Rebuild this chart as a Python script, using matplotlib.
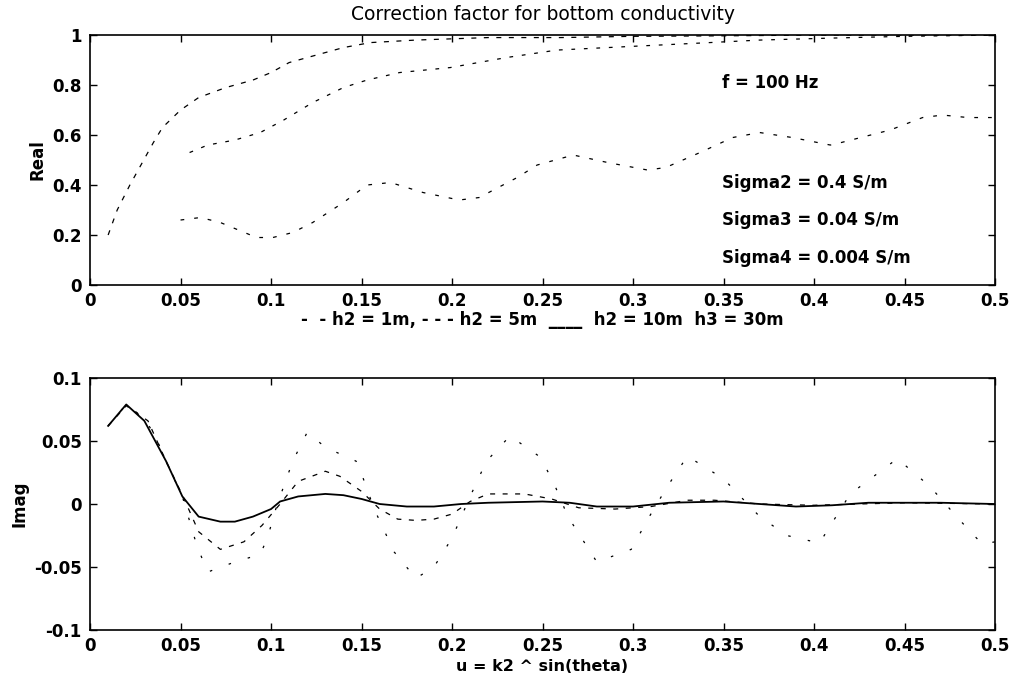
import matplotlib.pyplot as plt
import numpy as np

plt.rcParams['font.family'] = ['DejaVu Sans']

# Real part
u_real_a = [0.01, 0.015, 0.022, 0.035, 0.04, 0.05, 0.06, 0.075, 0.09, 0.1, 0.11,
            0.125, 0.14, 0.155, 0.18, 0.22, 0.26, 0.3, 0.35, 0.4, 0.45, 0.5]
real_a = [0.2, 0.3, 0.4, 0.57, 0.63, 0.70, 0.75, 0.79, 0.82, 0.85, 0.89,
          0.92, 0.95, 0.97, 0.98, 0.99, 0.99, 0.995, 0.997, 1.0, 1.0, 1.0]

u_real_b = [0.055, 0.065, 0.08, 0.094, 0.107, 0.123, 0.14, 0.153, 0.171, 0.199,
            0.23, 0.258, 0.3, 0.337, 0.37, 0.41, 0.45, 0.5]
real_b = [0.53, 0.56, 0.58, 0.61, 0.66, 0.73, 0.79, 0.82, 0.85, 0.87,
          0.91, 0.94, 0.955, 0.968, 0.98, 0.988, 0.995, 1.0]

u_real_c = [0.05, 0.061, 0.072, 0.092, 0.101, 0.112, 0.123, 0.14, 0.153, 0.166,
            0.184, 0.204, 0.215, 0.236, 0.247, 0.267, 0.286, 0.308, 0.318,
            0.337, 0.355, 0.37, 0.388, 0.409, 0.415, 0.442, 0.46, 0.471, 0.485, 0.5]
real_c = [0.26, 0.27, 0.25, 0.19, 0.19, 0.21, 0.25, 0.33, 0.40, 0.41,
          0.37, 0.34, 0.35, 0.43, 0.48, 0.52, 0.49, 0.46, 0.47,
          0.53, 0.59, 0.61, 0.59, 0.56, 0.57, 0.62, 0.67, 0.68, 0.67, 0.67]

# Imaginary part
u_imag_a = [0.01, 0.02, 0.03, 0.036, 0.042, 0.051, 0.059, 0.065, 0.08, 0.094,
            0.098, 0.103, 0.112, 0.12, 0.13, 0.147, 0.151, 0.157, 0.168, 0.18,
            0.19, 0.2, 0.21, 0.219, 0.232, 0.249, 0.257, 0.264, 0.28, 0.299,
            0.309, 0.319, 0.33, 0.35, 0.37, 0.385, 0.403, 0.42, 0.446, 0.464,
            0.48, 0.493, 0.5]
imag_a = [0.062, 0.079, 0.068, 0.054, 0.034, 0.006, -0.033, -0.054, -0.046, -0.04,
          -0.027, -0.002, 0.034, 0.057, 0.045, 0.034, 0.02, -0.004, -0.038, -0.059,
          -0.05, -0.027, 0.006, 0.034, 0.054, 0.037, 0.014, -0.01, -0.046, -0.036,
          -0.01, 0.014, 0.038, 0.02, -0.01, -0.025, -0.031, 0.008, 0.036, 0.014,
          -0.012, -0.032, -0.03]

u_imag_b = [0.01, 0.02, 0.032, 0.042, 0.052, 0.06, 0.072, 0.085, 0.095, 0.105,
            0.115, 0.13, 0.138, 0.15, 0.16, 0.17, 0.18, 0.19, 0.2, 0.21,
            0.22, 0.24, 0.255, 0.27, 0.29, 0.31, 0.33, 0.345, 0.37, 0.4, 0.45, 0.5]
imag_b = [0.062, 0.078, 0.066, 0.034, 0.004, -0.022, -0.036, -0.03, -0.017, 0.0,
          0.018, 0.026, 0.022, 0.01, -0.004, -0.012, -0.013, -0.012, -0.008, 0.002,
          0.008, 0.008, 0.004, -0.003, -0.004, -0.002, 0.003, 0.003, 0.0, -0.001, 0.001, 0.0]

u_imag_c = [0.01, 0.02, 0.03, 0.042, 0.051, 0.06, 0.072, 0.08, 0.09, 0.1,
            0.105, 0.115, 0.13, 0.14, 0.15, 0.16, 0.175, 0.19, 0.205, 0.22,
            0.25, 0.265, 0.28, 0.3, 0.32, 0.35, 0.37, 0.39, 0.41, 0.43, 0.47, 0.5]
imag_c = [0.062, 0.079, 0.066, 0.034, 0.006, -0.010, -0.014, -0.014, -0.010, -0.004,
          0.002, 0.006, 0.008, 0.007, 0.004, 0.0, -0.002, -0.002, 0.0, 0.001,
          0.002, 0.001, -0.002, -0.002, 0.001, 0.002, 0.0, -0.002, -0.001, 0.001, 0.001, 0.0]

xticks = [0, 0.05, 0.1, 0.15, 0.2, 0.25, 0.3, 0.35, 0.4, 0.45, 0.5]
xticklabels = ['0', '0.05', '0.1', '0.15', '0.2', '0.25', '0.3', '0.35', '0.4', '0.45', '0.5']
real_ticks = [0, 0.2, 0.4, 0.6, 0.8, 1]
real_ticklabels = ['0', '0.2', '0.4', '0.6', '0.8', '1']
imag_ticks = [-0.1, -0.05, 0, 0.05, 0.1]
imag_ticklabels = ['-0.1', '-0.05', '0', '0.05', '0.1']

fig = plt.figure(figsize=(10.14, 6.81), dpi=100)
ax1 = fig.add_axes([0.0888, 0.5815, 0.8925, 0.367])
ax2 = fig.add_axes([0.0888, 0.0749, 0.8925, 0.370])

ax1.plot(u_real_a, real_a, color='k', lw=0.9, linestyle=(0, (4, 6)))
ax1.plot(u_real_b, real_b, color='k', lw=0.9, linestyle=(0, (3, 7)))
ax1.plot(u_real_c, real_c, color='k', lw=0.9, linestyle=(0, (3, 8)))

ax2.plot(u_imag_a, imag_a, color='k', lw=0.9, linestyle=(0, (2, 14)))
ax2.plot(u_imag_b, imag_b, color='k', lw=0.9, linestyle=(0, (4, 6)))
ax2.plot(u_imag_c, imag_c, color='k', lw=1.3)

for ax, yt, ytl, ylim in [(ax1, real_ticks, real_ticklabels, (0, 1)),
                          (ax2, imag_ticks, imag_ticklabels, (-0.1, 0.1))]:
    ax.set_xlim(0, 0.5)
    ax.set_ylim(*ylim)
    ax.set_xticks(xticks)
    ax.set_xticklabels(xticklabels, fontsize=12, fontweight='bold')
    ax.set_yticks(yt)
    ax.set_yticklabels(ytl, fontsize=12, fontweight='bold')
    ax.tick_params(direction='in', length=5, width=1, top=True, right=True)
    ax.tick_params(axis='x', pad=5)
    ax.tick_params(axis='y', pad=6)
    for s in ax.spines.values():
        s.set_linewidth(1.2)

ax1.set_title('Correction factor for bottom conductivity', fontsize=13.5, pad=11)
ax1.set_ylabel('Real', fontsize=12, fontweight='bold', labelpad=4)
ax1.set_xlabel('-  - h2 = 1m, - - - h2 = 5m  ____  h2 = 10m  h3 = 30m',
               fontsize=12, fontweight='bold', labelpad=1)
ax1.text(0.349, 0.81, 'f = 100 Hz', fontsize=12, fontweight='bold', va='center')
ax1.text(0.349, 0.41, 'Sigma2 = 0.4 S/m', fontsize=12, fontweight='bold', va='center')
ax1.text(0.349, 0.26, 'Sigma3 = 0.04 S/m', fontsize=12, fontweight='bold', va='center')
ax1.text(0.349, 0.11, 'Sigma4 = 0.004 S/m', fontsize=12, fontweight='bold', va='center')

ax2.set_ylabel('Imag', fontsize=12, fontweight='bold', labelpad=4)
ax2.set_xlabel('u = k2 ^ sin(theta)', fontsize=11.5, fontweight='bold', labelpad=3)

fig.savefig('out.png', dpi=100)
